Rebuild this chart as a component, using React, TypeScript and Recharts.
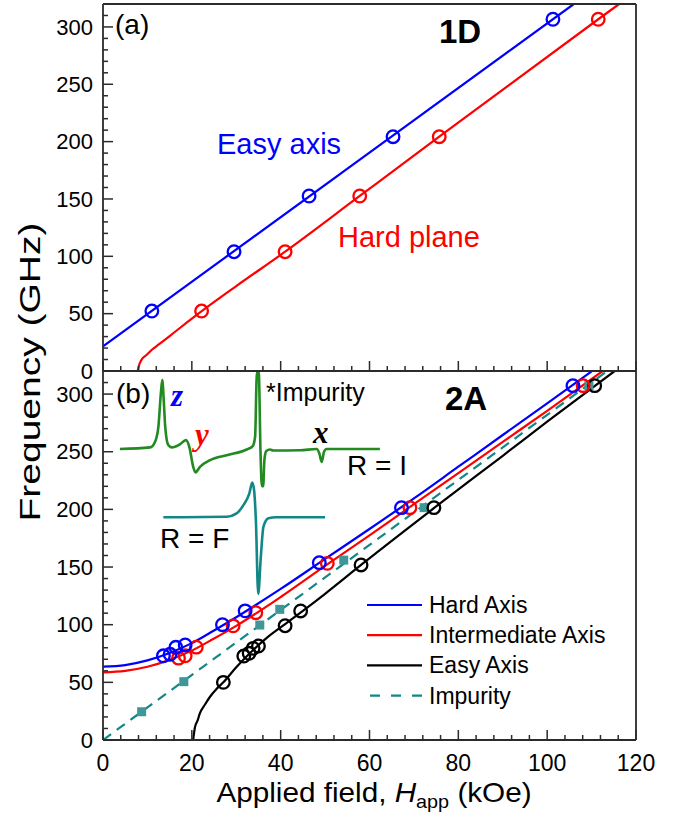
import React from 'react';
import { ComposedChart, Line, Scatter, XAxis, YAxis, Legend } from 'recharts';

const FONT = '"Liberation Sans", Arial, Helvetica, sans-serif';
const SERIF = '"Liberation Serif", "Times New Roman", serif';
const AXIS = '#2b2b2b';
const BLUE = '#0000ff';
const RED = '#ff0000';
const BLACK = '#000000';
const TEAL = '#138787';
const TEAL_SQ = '#3f9797';
const GREEN = '#218a21';

// axis ticks (minor every 4 kOe / 10 GHz, labels on majors)
const xTicks = [0, 4, 8, 12, 16, 20, 24, 28, 32, 36, 40, 44, 48, 52, 56, 60, 64, 68, 72, 76, 80, 84, 88, 92, 96, 100, 104, 108, 112, 116, 120];
const yTicks = [0, 10, 20, 30, 40, 50, 60, 70, 80, 90, 100, 110, 120, 130, 140, 150, 160, 170, 180, 190, 200, 210, 220, 230, 240, 250, 260, 270, 280, 290, 300, 310];

// ---- panel (a) 1D ----
const aFreq = [52.3, 104, 152.6, 204.3, 306.7];
const aEasyField = [11.0, 29.5, 46.4, 65.3, 101.3];
const aHardField = [22.2, 41.0, 57.8, 75.7, 111.5];
const aEasyFit = [{ x: 0, y: 21.5 }, { x: 106, y: 320 }];
const aHardFit = [
  { x: 7.8, y: 0 }, { x: 8.2, y: 6 }, { x: 8.8, y: 10.5 }, { x: 9.8, y: 14 }, { x: 11, y: 18.5 },
  { x: 12.4, y: 22.7 }, { x: 15, y: 30.5 }, { x: 17.3, y: 37.5 }, { x: 22, y: 51.5 }, { x: 30, y: 74 },
  { x: 41, y: 104 }, { x: 57.8, y: 152.6 }, { x: 75.7, y: 204.3 }, { x: 111.5, y: 306.7 }, { x: 116.2, y: 320 },
];

// ---- panel (b) 2A ----
const bHardPts = [
  { x: 13.6, y: 73 }, { x: 15.1, y: 74.3 }, { x: 16.4, y: 80.4 }, { x: 18.5, y: 82.4 }, { x: 26.9, y: 100 },
  { x: 32, y: 112 }, { x: 48.7, y: 153.8 }, { x: 67.2, y: 201.5 }, { x: 105.8, y: 307.3 },
];
const bInterPts = [
  { x: 17, y: 71 }, { x: 18.5, y: 73 }, { x: 21, y: 80.5 }, { x: 29.3, y: 99 }, { x: 34.4, y: 110.4 },
  { x: 50.5, y: 153.2 }, { x: 69.1, y: 201.5 }, { x: 108.1, y: 307.3 },
];
const bEasyPts = [
  { x: 27.1, y: 50 }, { x: 31.7, y: 72.8 }, { x: 32.9, y: 75.2 }, { x: 33.8, y: 79.5 }, { x: 35, y: 81.5 },
  { x: 41, y: 99.1 }, { x: 44.5, y: 111.9 }, { x: 58.1, y: 151.8 }, { x: 74.5, y: 201.5 }, { x: 110.7, y: 307.3 },
];
const bImpPts = [
  { x: 8.7, y: 24.5 }, { x: 18.2, y: 50.6 }, { x: 35.3, y: 99.7 }, { x: 39.8, y: 113.3 }, { x: 54.2, y: 156 },
  { x: 72.3, y: 201.5 }, { x: 109.4, y: 307.3 },
];
const bHardFit = [
  { x: 0, y: 63.6 }, { x: 5, y: 65 }, { x: 10, y: 69 }, { x: 15, y: 75.5 }, { x: 20, y: 84 }, { x: 25, y: 95 },
  { x: 30, y: 106.5 }, { x: 40, y: 131 }, { x: 50, y: 157 }, { x: 60, y: 183 }, { x: 70, y: 209.5 },
  { x: 80, y: 237 }, { x: 90, y: 264.5 }, { x: 100, y: 292 }, { x: 110, y: 319.6 },
];
const bInterFit = [
  { x: 0, y: 58.7 }, { x: 5, y: 60 }, { x: 10, y: 63.5 }, { x: 15, y: 69.5 }, { x: 20, y: 77.5 }, { x: 25, y: 88 },
  { x: 30, y: 99 }, { x: 40, y: 124 }, { x: 50, y: 151 }, { x: 60, y: 177.5 }, { x: 70, y: 204.5 },
  { x: 80, y: 231.5 }, { x: 90, y: 258.5 }, { x: 100, y: 285.5 }, { x: 112.5, y: 320 },
];
const bEasyFit = [
  { x: 20.3, y: 0 }, { x: 20.7, y: 11 }, { x: 21.3, y: 17 }, { x: 21.8, y: 23 }, { x: 23, y: 31 },
  { x: 24.1, y: 37.5 }, { x: 25.5, y: 44 }, { x: 27.1, y: 50 }, { x: 30, y: 63 }, { x: 33.8, y: 78 },
  { x: 37, y: 89 }, { x: 41, y: 100.5 }, { x: 45, y: 112 }, { x: 50, y: 126.8 }, { x: 58.1, y: 151.8 },
  { x: 75, y: 202.5 }, { x: 90, y: 246.5 }, { x: 100, y: 276 }, { x: 115.2, y: 320 },
];
const bImpFit = [{ x: 0, y: 0 }, { x: 113.5, y: 320 }];

// ---- inset spectra (arbitrary field u / amplitude v units) ----
const specI = [
  { u: 6.5, v: 112 }, { u: 18.1, v: 112.6 }, { u: 20, v: 114.7 }, { u: 21.3, v: 120.5 }, { u: 22.3, v: 134 },
  { u: 22.8, v: 138.5 }, { u: 23.4, v: 130 }, { u: 23.9, v: 121 }, { u: 25.1, v: 113.5 }, { u: 26.4, v: 112.6 },
  { u: 29.6, v: 113.8 }, { u: 31.9, v: 115.4 }, { u: 33.2, v: 112.8 }, { u: 34.7, v: 105.1 }, { u: 35.6, v: 103 },
  { u: 37.3, v: 105.1 }, { u: 41.2, v: 107.7 }, { u: 47.6, v: 109.6 }, { u: 55.3, v: 111.8 }, { u: 57.6, v: 113.1 },
  { u: 58.5, v: 116.7 }, { u: 59.2, v: 141.5 }, { u: 59.9, v: 141.5 }, { u: 60.6, v: 110 }, { u: 61.1, v: 97.7 },
  { u: 61.6, v: 97.7 }, { u: 62.1, v: 108 }, { u: 62.8, v: 111.2 }, { u: 64.2, v: 111.8 }, { u: 65.5, v: 111.4 },
  { u: 75.8, v: 111.5 }, { u: 82.2, v: 112 }, { u: 83.2, v: 110.3 }, { u: 84.1, v: 107 }, { u: 85, v: 110.9 },
  { u: 86, v: 112 }, { u: 106.5, v: 112 },
];
const specF = [
  { u: 23.2, v: 85.7 }, { u: 47.6, v: 85.9 }, { u: 51.4, v: 87.2 }, { u: 54, v: 90.4 }, { u: 56.3, v: 94.9 },
  { u: 57.4, v: 99.1 }, { u: 58.1, v: 96.2 }, { u: 58.8, v: 84.6 }, { u: 59.7, v: 56.2 }, { u: 60.7, v: 70.5 },
  { u: 61.7, v: 82 }, { u: 63.6, v: 85.3 }, { u: 66.7, v: 85.7 }, { u: 85.4, v: 85.7 },
];

const legendNames = ['Hard Axis', 'Intermediate Axis', 'Easy Axis', 'Impurity'];
const legendColors = [BLUE, RED, BLACK, TEAL];

const toPts = (fields: number[], freqs: number[]) => fields.map((x, i) => ({ x, y: freqs[i] }));
const aEasyPts = toPts(aEasyField, aFreq);
const aHardPts = toPts(aHardField, aFreq);

const ring = (color: string) => (p: any) => (
  <circle cx={p.cx} cy={p.cy} r={6.3} fill="none" stroke={color} strokeWidth={2.3} />
);
const square = (p: any) => <rect x={p.cx - 4.5} y={p.cy - 4.5} width={9} height={9} fill={TEAL_SQ} />;

const XTick = ({ x, y, payload, labels }: any) => {
  const major = payload.value % 20 === 0;
  return (
    <g>
      <line x1={x} x2={x} y1={y} y2={y - (major ? 10 : 5)} stroke={AXIS} strokeWidth={1.5} />
      {labels && major && (
        <text x={x} y={y + 31} textAnchor="middle" fontSize={23} fontFamily={FONT} fill="#000">
          {payload.value}
        </text>
      )}
    </g>
  );
};

const YTick = ({ x, y, payload }: any) => {
  const major = payload.value % 50 === 0;
  return (
    <g>
      <line x1={x} x2={x + (major ? 10 : 5)} y1={y} y2={y} stroke={AXIS} strokeWidth={1.5} />
      {major && (
        <text x={x - 10} y={y} dy="0.35em" textAnchor="end" fontSize={22} fontFamily={FONT} fill="#000">
          {payload.value}
        </text>
      )}
    </g>
  );
};

const axisLine = { stroke: AXIS, strokeWidth: 1.8 };

const frameAxes = (xLabels: boolean) => [
  <XAxis key="xb" xAxisId="x" type="number" dataKey="x" domain={[0, 120]} ticks={xTicks} interval={0}
    allowDataOverflow tickSize={0} tickMargin={0} tickLine={false} height={1} axisLine={axisLine}
    tick={(p: any) => <XTick {...p} labels={xLabels} />} />,
  <XAxis key="xt" xAxisId="top" orientation="top" type="number" domain={[0, 120]} height={1}
    tick={false} tickLine={false} axisLine={axisLine} />,
  <YAxis key="yl" yAxisId="y" type="number" dataKey="y" domain={[0, 320]} ticks={yTicks} interval={0}
    allowDataOverflow tickSize={0} tickMargin={0} tickLine={false} width={1} axisLine={axisLine}
    tick={(p: any) => <YTick {...p} />} />,
  <YAxis key="yr" yAxisId="right" orientation="right" type="number" domain={[0, 320]} width={1}
    tick={false} tickLine={false} axisLine={axisLine} />,
];

const fitLine = (data: any[], color: string, dash?: string) => (
  <Line xAxisId="x" yAxisId="y" data={data} dataKey="y" type="monotone" stroke={color} strokeWidth={2.2}
    strokeDasharray={dash} dot={false} activeDot={false} isAnimationActive={false} />
);

const LegendBox = () => (
  <svg width={270} height={125}>
    {legendNames.map((name, i) => {
      const cy = 17 + i * 30.2;
      return (
        <g key={name}>
          <line x1={7} x2={62} y1={cy} y2={cy} stroke={legendColors[i]} strokeWidth={2.2}
            strokeDasharray={name === 'Impurity' ? '10 11' : undefined} strokeDashoffset={name === 'Impurity' ? -3 : 0} />
          <text x={69} y={cy} dy="0.35em" fontSize={23} fontFamily={FONT} fill="#000">{name}</text>
        </g>
      );
    })}
  </svg>
);

export default function App() {
  return (
    <div style={{ position: 'absolute', left: 0, top: 0, width: 675, height: 821, background: '#fff' }}>
      <div style={{ position: 'absolute', left: 0, top: 0 }}>
        <ComposedChart width={675} height={392} margin={{ top: 3, right: 38, bottom: 20, left: 102 }}>
          {frameAxes(false)}
          {fitLine(aEasyFit, BLUE)}
          {fitLine(aHardFit, RED)}
          <Scatter xAxisId="x" yAxisId="y" data={aEasyPts} shape={ring(BLUE)} isAnimationActive={false} />
          <Scatter xAxisId="x" yAxisId="y" data={aHardPts} shape={ring(RED)} isAnimationActive={false} />
        </ComposedChart>
      </div>
      <div style={{ position: 'absolute', left: 0, top: 0 }}>
        <ComposedChart width={675} height={821} margin={{ top: 370, right: 38, bottom: 80, left: 102 }}>
          {frameAxes(true)}
          <XAxis xAxisId="zin" type="number" dataKey="u" domain={[0, 205]} hide height={0} allowDataOverflow />
          <YAxis yAxisId="zin" type="number" dataKey="v" domain={[0, 142]} hide width={0} allowDataOverflow />
          {fitLine(bImpFit, TEAL, '10 7')}
          {fitLine(bEasyFit, BLACK)}
          {fitLine(bInterFit, RED)}
          {fitLine(bHardFit, BLUE)}
          <Scatter xAxisId="x" yAxisId="y" data={bImpPts} shape={square} isAnimationActive={false} />
          <Scatter xAxisId="x" yAxisId="y" data={bEasyPts} shape={ring(BLACK)} isAnimationActive={false} />
          <Scatter xAxisId="x" yAxisId="y" data={bInterPts} shape={ring(RED)} isAnimationActive={false} />
          <Scatter xAxisId="x" yAxisId="y" data={bHardPts} shape={ring(BLUE)} isAnimationActive={false} />
          <Line xAxisId="zin" yAxisId="zin" data={specI} dataKey="v" type="monotone" stroke={GREEN} strokeWidth={2.6}
            dot={false} activeDot={false} isAnimationActive={false} />
          <Line xAxisId="zin" yAxisId="zin" data={specF} dataKey="v" type="monotone" stroke={TEAL} strokeWidth={2.6}
            dot={false} activeDot={false} isAnimationActive={false} />
          <Legend layout="vertical" align="center" verticalAlign="middle"
            wrapperStyle={{ left: 360, top: 588, width: 270, height: 125 }} content={() => <LegendBox />} />
        </ComposedChart>
      </div>
      <svg width={675} height={821} style={{ position: 'absolute', left: 0, top: 0, pointerEvents: 'none' }}
        fontFamily={FONT}>
        <text x={115} y={34} fontSize={28}>(a)</text>
        <text x={439} y={43} fontSize={33} fontWeight="bold">1D</text>
        <text x={217} y={154} fontSize={29} fill={BLUE}>Easy axis</text>
        <text x={338} y={247} fontSize={29} fill={RED}>Hard plane</text>
        <text x={116} y={403} fontSize={28}>(b)</text>
        <text x={445} y={410} fontSize={33} fontWeight="bold">2A</text>
        <text x={266} y={401} fontSize={25}>*Impurity</text>
        <text x={347} y={475} fontSize={28}>R = I</text>
        <text x={160} y={548} fontSize={28}>R = F</text>
        <text x={171} y={406} fontSize={31} fontWeight="bold" fontStyle="italic" fontFamily={SERIF} fill={BLUE}>z</text>
        <text x={195} y={445} fontSize={31} fontWeight="bold" fontStyle="italic" fontFamily={SERIF} fill={RED}>y</text>
        <text x={313} y={443} fontSize={31} fontWeight="bold" fontStyle="italic" fontFamily={SERIF} fill={BLACK}>x</text>
        <text transform="translate(40,372) rotate(-90) scale(1.3,1)" textAnchor="middle" fontSize={30}>Frequency (GHz)</text>
        <text transform="translate(374,802) scale(1.1,1)" textAnchor="middle" fontSize={27}>
          Applied field, <tspan fontStyle="italic">H</tspan>
          <tspan fontSize={18} dy={6}>app</tspan>
          <tspan dy={-6}> (kOe)</tspan>
        </text>
      </svg>
    </div>
  );
}
